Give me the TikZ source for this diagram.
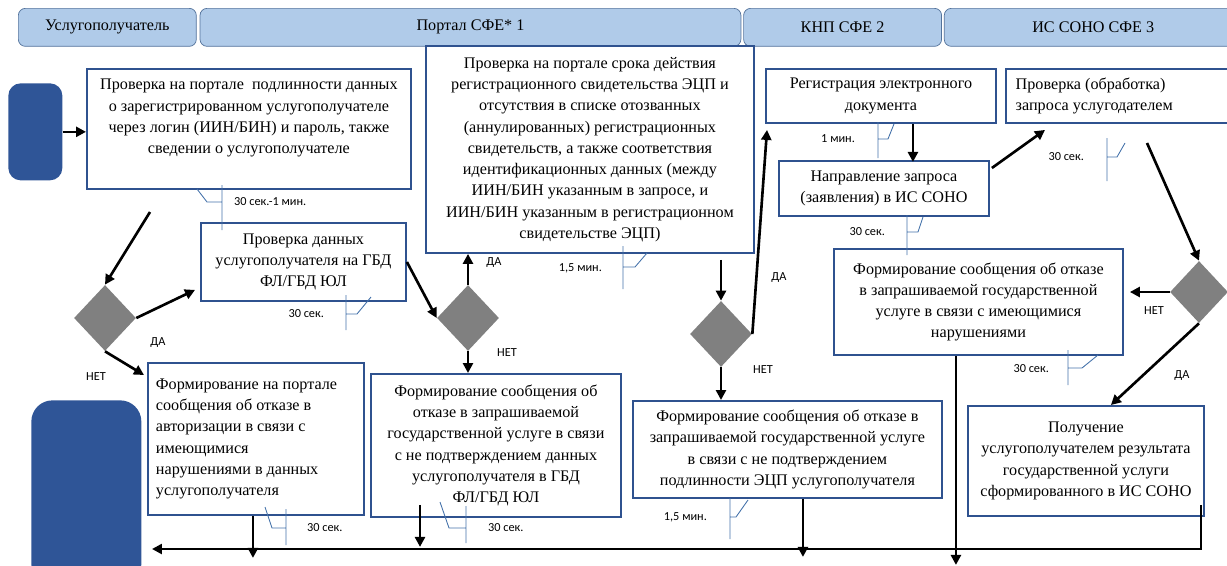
\documentclass[tikz,border=0pt]{standalone}
\usepackage{fontspec}
\setmainfont{Liberation Serif}
\newfontfamily\lblfont{Carlito}
\usepackage{xcolor}
\usetikzlibrary{positioning,shapes.geometric,arrows.meta,calc}

\definecolor{lanefill}{RGB}{176,203,233}
\definecolor{laneline}{RGB}{84,115,155}
\definecolor{boxline}{RGB}{47,82,143}
\definecolor{termfill}{RGB}{47,85,151}
\definecolor{noteline}{RGB}{68,114,170}
\definecolor{gatefill}{RGB}{128,128,128}

\begin{document}
\begin{tikzpicture}[
		x=0.02cm, y=-0.02cm,
		every node/.style={font=\fontsize{9.2}{12.1}\selectfont},
		lane/.style={
				draw=laneline,
				fill=lanefill,
				rounded corners=4pt,
				minimum height=0.76cm,
				anchor=north west,
				inner sep=0pt
			},
		stagebox/.style={
				draw=boxline,
				line width=1.1pt,
				align=center,
				anchor=north west,
				inner sep=2pt
			},
		term/.style={fill=termfill, anchor=north west},
		gate/.style={diamond, fill=gatefill, minimum width=1.24cm, minimum height=1.32cm, inner sep=0pt},
		arrow/.style={-{Triangle[length=0.2cm,width=0.2cm]}, line width=1.5pt},
		note/.style={draw=noteline, line width=0.5pt},
		tag/.style={font=\lblfont\fontsize{7}{8}\selectfont, inner sep=1pt}
	]
	\useasboundingbox (0,0) rectangle (1227,565);

	% Swimlane headers
	\node[lane, minimum width=3.56cm] (lane1) at (18,8) {Услугополучатель};
	\node[lane, minimum width=10.82cm, right=0.06cm of lane1] (lane2) {Портал СФЕ* 1};
	\node[lane, minimum width=3.96cm, right=0.04cm of lane2] (lane3) {КНП СФЕ 2};
	\node[lane, minimum width=5.96cm, right=0.04cm of lane3] (lane4) {ИС СОНО СФЕ 3};

	% Start and end
	\node[term, minimum width=1.08cm, minimum height=1.94cm, rounded corners=7pt] (start) at (8,83) {};
	\node[term, minimum width=2.2cm, minimum height=3.7cm, rounded corners=12pt] (finish) at (31,400) {};

	% Process steps
	\node[stagebox, minimum width=6.48cm, minimum height=2.4cm] (login) at (86,68) {};
	\node[align=center, below=0.1cm of login.north] (logintext) {
		Проверка на портале \ подлинности данных\\
		о зарегистрированном услугополучателе\\
		через логин (ИИН/БИН) и пароль, также\\
		сведении о услугополучателе
	};
	\node[stagebox, minimum width=4.1cm, minimum height=1.56cm] (gbd) at (200,222) {
		Проверка данных\\ услугополучателя на ГБД\\ ФЛ/ГБД ЮЛ
	};
	\node[stagebox, minimum width=4.32cm, minimum height=3.04cm, align=flush left, text width=4.0cm] (authno) at (147,362) {
		Формирование на портале\\ сообщения об отказе в\\ авторизации в связи с\\
		имеющимися\\ нарушениями в данных\\ услугополучателя
	};
	\node[stagebox, minimum width=6.56cm, minimum height=4.14cm] (ecp) at (425,45) {
		Проверка на портале срока действия\\
		регистрационного свидетельства ЭЦП и\\
		отсутствия в списке отозванных\\
		(аннулированных) регистрационных\\
		свидетельств, а также соответствия\\
		идентификационных данных (между\\
		ИИН/БИН указанным в запросе, и\\
		ИИН/БИН указанным в регистрационном\\
		свидетельстве ЭЦП)
	};
	\node[stagebox, minimum width=5.0cm, minimum height=2.86cm] (gbdno) at (370,373) {
		Формирование сообщения об\\ отказе в запрашиваемой\\
		государственной услуге в связи\\ с не подтверждением данных\\
		услугополучателя в ГБД\\ ФЛ/ГБД ЮЛ
	};
	\node[stagebox, minimum width=6.18cm, minimum height=1.94cm] (ecpno) at (632,400) {
		Формирование сообщения об отказе в\\
		запрашиваемой государственной услуге\\
		в связи с не подтверждением\\
		подлинности ЭЦП услугополучателя
	};
	\node[stagebox, minimum width=4.6cm, minimum height=1.08cm] (reg) at (765,68) {
		Регистрация электронного\\ документа
	};
	\node[stagebox, minimum width=4.2cm, minimum height=1.1cm] (send) at (778,160) {
		Направление запроса\\ (заявления) в ИС СОНО
	};
	\node[stagebox, minimum width=5.78cm, minimum height=2.12cm] (sonono) at (833,248) {
		Формирование сообщения об отказе\\
		в запрашиваемой государственной\\
		услуге в связи с имеющимися\\
		нарушениями
	};
	\node[stagebox, minimum width=4.54cm, minimum height=1.08cm, align=flush left, text width=4.15cm] (check) at (1005,68) {
		Проверка (обработка)\\ запроса услугодателем
	};
	\node[stagebox, minimum width=4.72cm, minimum height=2.2cm] (result) at (967,405) {
		Получение\\ услугополучателем результата\\
		государственной услуги\\ сформированного в ИС СОНО
	};

	% Decisions
	\node[gate] (q1) at (105,318) {};
	\node[gate] (q2) at (468,318) {};
	\node[gate] (q3) at (721,334) {};
	\node[gate, minimum width=1.16cm, minimum height=1.24cm] (q4) at (1199,292) {};

	\coordinate (from1) at (150,212);
	\coordinate (from4) at (1147,143);
	\coordinate (bus) at (152,549);

	% Flow arrows
	\draw[arrow] (start.east) -- (start.east -| login.west);
	\draw[arrow] (from1) -- (q1.north);
	\draw[arrow] (q1.east) -- ([shift={(-5,-12)}]gbd.south west);
	\draw[arrow] (q1.south) -- ([shift={(-3,13)}]authno.north west);
	\draw[arrow] (gbd.east) -- (q2.west);
	\draw[arrow] (q2.north) -- (q2.north |- ecp.south);
	\draw[arrow] (q2.south) -- (q2.south |- gbdno.north);
	\draw[arrow] ($(q3.north |- ecp.south)+(0,6)$) -- (q3.north);
	\draw[arrow] (q3.east) -- ([shift={(2,6)}]reg.south west);
	\draw[arrow] (q3.south) -- (q3.south |- ecpno.north);
	\draw[arrow] ([xshift=0.64cm]reg.south) -- ++(0,38);
	\draw[arrow] ([shift={(2,8)}]send.north east) -- ([shift={(40,6)}]check.south west);
	\draw[arrow] (from4) -- (q4.north);
	\draw[arrow, shorten >=0.12cm] (q4.west) -- (q4.west -| sonono.east);
	\draw[arrow] (q4.south) -- ([xshift=0.5cm]result.north);

	% Down to the return line
	\draw[arrow] ([xshift=-0.06cm]authno.south) -- ++(0,42);
	\draw[arrow] ([shift={(50,-13)}]gbdno.south west) -- ++(0,42);
	\draw[arrow] ([xshift=0.31cm]ecpno.south) -- ++(0,58);
	\draw[arrow] ([xshift=-0.45cm]sonono.south) -- ++(0,209);
	\draw[arrow] ([shift={(-4,-12)}]result.south east) |- (bus);

	% Time callouts
	\foreach \x/\ya/\yb/\yc/\dx/\ex/\ey in {222/185/230/202/-15/-10/-13, 346/295/330/314/11/14/-17,
			286/509/545/528/-14/-7/-21, 623/246/289/267/12/12/-14, 466/506/543/528/-17/-9/-26,
			878/122/158/139/10/6/-15, 907/215/255/232/11/5/-15, 1107/138/181/157/10/8/-14,
			1068/350/385/368/14/16/-13, 730/498/539/517/6/12/-17} {
			\draw[note] (\x,\ya) -- (\x,\yb) (\x,\yc) -- ++(\dx,0) -- ++(\ex,\ey);
		}
	\node[tag, anchor=west] (t1) at (232,202) {30 сек.-1 мин.};
	\node[tag, anchor=east] (t2) at (326,314) {30 сек.};
	\node[tag, anchor=west] (t3) at (305,528) {30 сек.};
	\node[tag, anchor=east] (t4) at (604,268) {1,5 мин.};
	\node[tag, anchor=west] (t5) at (486,528) {30 сек.};
	\node[tag, anchor=east] (t6) at (857,139) {1 мин.};
	\node[tag, anchor=east] (t7) at (887,232) {30 сек.};
	\node[tag, anchor=east] (t8) at (1086,157) {30 сек.};
	\node[tag, anchor=east] (t9) at (1051,369) {30 сек.};
	\node[tag, anchor=east] (t10) at (709,517) {1,5 мин.};

	% Decision labels
	\node[tag] (yes1) at (158,343) {ДА};
	\node[tag] (no1) at (96,377) {НЕТ};
	\node[tag] (yes2) at (494,263) {ДА};
	\node[tag] (no2) at (507,353) {НЕТ};
	\node[tag] (yes3) at (779,278) {ДА};
	\node[tag] (no3) at (763,370) {НЕТ};
	\node[tag] (no4) at (1154,311) {НЕТ};
	\node[tag] (yes4) at (1182,376) {ДА};
\end{tikzpicture}
\end{document}
